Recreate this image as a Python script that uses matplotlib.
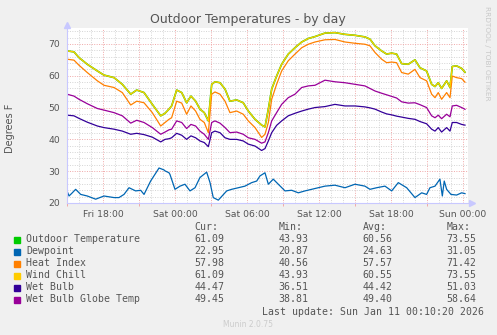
import matplotlib
matplotlib.use('Agg')
import matplotlib.pyplot as plt
from matplotlib.patches import Rectangle

W, H = 497, 335

# hours since Fri 15:00
hours = [0.0, 0.58, 1.0, 1.69, 2.53, 3.08, 3.92, 4.61, 5.31, 5.81,
         6.42, 7.11, 7.81, 8.17, 8.5, 8.72, 9.14, 9.56, 9.97, 10.33,
         10.72, 11.08, 11.44, 11.78, 12.06, 12.33, 12.75, 13.17, 13.58, 14.14,
         14.69, 15.11, 15.67, 16.22, 16.5, 16.78, 17.06, 17.47, 17.89, 18.44,
         19.0, 19.56, 20.11, 20.67, 21.5, 22.33, 23.17, 24.0, 24.83, 25.25,
         25.67, 26.22, 26.64, 27.06, 27.47, 27.89, 28.44, 29.0, 29.42, 29.97,
         30.39, 30.67, 30.94, 31.22, 31.64, 31.92, 32.11, 32.47, 32.89, 33.17]

outdoor = [67.8, 67.5, 65.7, 63.6, 61.5, 60.2, 59.4, 57.3, 54.2, 55.5,
           54.7, 51.0, 47.4, 48.2, 49.5, 50.5, 55.5, 54.7, 51.5, 53.6,
           52.0, 49.5, 48.4, 45.8, 57.3, 58.1, 57.8, 55.8, 52.0, 52.4,
           51.5, 48.9, 46.3, 44.5, 43.9, 49.5, 55.8, 59.9, 63.6, 66.8,
           68.8, 70.6, 71.7, 72.3, 73.4, 73.55, 73.0, 72.7, 72.2, 71.5,
           69.4, 67.8, 66.8, 67.1, 66.8, 63.8, 63.6, 65.0, 62.5, 61.5,
           57.3, 56.6, 57.8, 56.0, 58.4, 56.3, 62.9, 63.1, 62.3, 61.09]

heat_index = [65.2, 64.9, 63.3, 61.0, 58.4, 57.0, 56.3, 54.7, 50.8, 52.0,
              51.5, 48.4, 44.2, 45.3, 46.3, 46.8, 52.0, 51.4, 47.9, 50.5,
              48.9, 46.3, 45.3, 42.1, 54.2, 54.9, 54.2, 52.0, 48.4, 48.9,
              47.9, 45.8, 43.7, 40.6, 41.6, 45.3, 52.6, 57.3, 61.5, 64.7,
              66.8, 68.8, 69.9, 70.6, 71.3, 71.4, 70.6, 70.2, 69.9, 69.4,
              67.3, 65.2, 64.1, 64.3, 64.1, 61.0, 60.5, 62.0, 59.4, 58.4,
              54.2, 53.1, 54.7, 52.6, 54.7, 53.1, 59.9, 59.4, 59.1, 57.98]

wind_chill = outdoor

wet_bulb = [47.6, 47.4, 46.6, 45.4, 44.2, 43.7, 43.2, 42.6, 41.6, 41.9,
            41.5, 40.7, 39.2, 40.0, 40.2, 40.5, 41.9, 41.3, 40.0, 41.1,
            40.5, 39.5, 39.0, 37.7, 42.1, 42.6, 42.1, 40.5, 40.0, 40.0,
            39.5, 38.5, 37.9, 36.5, 37.1, 39.5, 42.1, 44.4, 45.8, 47.4,
            48.2, 48.9, 49.5, 50.0, 50.3, 51.0, 50.5, 50.5, 50.2, 49.9,
            49.5, 48.6, 48.0, 47.7, 47.3, 47.0, 46.6, 46.3, 45.6, 44.9,
            43.2, 42.6, 43.7, 42.3, 43.7, 42.6, 45.3, 45.3, 44.7, 44.47]

wbgt = [54.2, 53.6, 52.6, 51.2, 49.7, 49.2, 48.4, 47.4, 45.1, 46.0,
        45.3, 43.7, 41.6, 42.3, 43.0, 43.2, 45.8, 45.3, 43.4, 44.7,
        44.2, 42.6, 41.6, 40.0, 45.3, 45.8, 45.1, 43.7, 42.1, 42.3,
        41.6, 40.5, 40.0, 38.8, 39.2, 42.1, 45.8, 48.4, 51.0, 53.1,
        54.2, 56.3, 56.8, 57.0, 58.6, 58.1, 57.8, 57.3, 56.8, 56.0,
        55.2, 54.5, 54.0, 53.5, 53.0, 51.8, 51.4, 51.5, 50.9, 50.0,
        47.4, 46.8, 47.6, 46.5, 47.9, 47.1, 50.5, 50.7, 50.0, 49.45]

dew_hours = [0.0, 0.17, 0.44, 0.72, 1.14, 1.69, 2.39, 3.08, 3.92, 4.33,
             4.75, 5.17, 5.72, 6.14, 6.42, 6.97, 7.67, 8.08, 8.17, 8.5,
             8.58, 9.0, 9.42, 9.83, 10.25, 10.67, 11.08, 11.64, 11.92, 12.19,
             12.61, 13.31, 13.72, 14.28, 14.83, 15.39, 15.81, 16.08, 16.5, 16.78,
             17.19, 17.61, 18.17, 18.72, 19.28, 19.83, 20.39, 20.94, 21.5, 22.33,
             23.17, 24.0, 24.83, 25.25, 25.81, 26.5, 27.06, 27.61, 28.31, 29.0,
             29.56, 29.97, 30.25, 30.67, 31.08, 31.28, 31.44, 31.64, 32.0, 32.47,
             32.89, 33.17]
dewpoint = [23.8, 22.2, 23.2, 24.3, 22.7, 22.2, 21.2, 22.2, 21.7, 21.7,
            22.7, 24.8, 23.8, 24.0, 22.7, 26.9, 31.0, 30.4, 30.1, 29.5,
            29.0, 24.3, 25.3, 25.9, 23.8, 24.8, 28.0, 29.7, 26.4, 21.7,
            20.9, 23.8, 24.3, 24.8, 25.3, 26.4, 26.9, 28.5, 29.5, 25.9,
            27.5, 25.9, 23.8, 24.0, 23.2, 23.8, 24.3, 24.8, 25.3, 25.6,
            24.8, 25.9, 25.3, 24.3, 24.8, 25.3, 23.8, 26.4, 24.8, 21.7,
            23.2, 22.7, 24.8, 25.3, 27.5, 22.2, 26.9, 24.3, 22.7, 22.5,
            23.2, 22.95]

labels = ['Outdoor Temperature', 'Dewpoint', 'Heat Index', 'Wind Chill',
          'Wet Bulb', 'Wet Bulb Globe Temp']
colors = ['#00cc00', '#0066b3', '#ff8000', '#ffcc00', '#330099', '#990099']
cur = ['61.09', '22.95', '57.98', '61.09', '44.47', '49.45']
mins = ['43.93', '20.87', '40.56', '43.93', '36.51', '38.81']
avgs = ['60.56', '24.63', '57.57', '60.55', '44.42', '49.40']
maxs = ['73.55', '31.05', '71.42', '73.55', '51.03', '58.64']

xtick_hours = [3, 9, 15, 21, 27, 33]
xtick_labels = ['Fri 18:00', 'Sat 00:00', 'Sat 06:00', 'Sat 12:00', 'Sat 18:00', 'Sun 00:00']

TXT = '#555555'


def fx(x):
    return x / W


def fy(y):
    return 1 - y / H


fig = plt.figure(figsize=(W / 100, H / 100), dpi=100, facecolor='#f0f0f0')
ax = fig.add_axes([fx(67), fy(203), fx(468) - fx(67), fy(28) - fy(203)])
ax.set_facecolor('white')
ax.set_xlim(0, 33.42)
ax.set_ylim(20, 75)

# grid: gray every hour / 2 deg, red every 3 h / 10 deg
for h in range(0, 34):
    c = '#f0a8a8' if h % 3 == 0 else '#d4d4d4'
    ax.axvline(h, color=c, lw=0.7, ls=(0, (1, 1.5)), zorder=0)
for v in range(20, 76, 2):
    c = '#f0a8a8' if v % 10 == 0 else '#d4d4d4'
    ax.axhline(v, color=c, lw=0.7, ls=(0, (1, 1.5)), zorder=0)

lw = 0.9
ax.plot(hours, outdoor, color=colors[0], lw=1.2)
ax.plot(dew_hours, dewpoint, color=colors[1], lw=lw)
ax.plot(hours, heat_index, color=colors[2], lw=lw)
ax.plot(hours, wind_chill, color=colors[3], lw=0.95)
ax.plot(hours, wet_bulb, color=colors[4], lw=lw)
ax.plot(hours, wbgt, color=colors[5], lw=lw)

ax.set_xticks(xtick_hours)
ax.set_xticklabels(xtick_labels)
ax.set_xticks(range(0, 34, 3), minor=True)
ax.set_yticks(range(20, 71, 10))
ax.tick_params(length=0, labelsize=6.7, colors=TXT, pad=5)
ax.tick_params(axis='x', which='minor', length=2, color='#f0a8a8', width=0.7)
for s in ['top', 'right']:
    ax.spines[s].set_visible(False)
for s in ['left', 'bottom']:
    ax.spines[s].set_color('#c8c8ff')
    ax.spines[s].set_linewidth(0.8)

# axis arrows
ax.plot([0], [75.8], marker='^', color='#c8c8ff', ms=4, clip_on=False)
ax.plot([33.75], [20], marker='>', color='#c8c8ff', ms=4, clip_on=False)

fig.text(fx(248), fy(19), 'Outdoor Temperatures - by day', ha='center', va='center',
         fontsize=9, color=TXT)
fig.text(fx(10), fy(128), 'Degrees F', rotation=90, ha='center', va='center',
         fontsize=7, color=TXT)
fig.text(fx(487), fy(6), 'RRDTOOL / TOBI OETIKER', rotation=270, ha='center', va='top',
         fontsize=5.3, color='#c8c8c8')

mono = 'DejaVu Sans Mono'
fs = 7.1
for x, head in zip([194.3, 278.7, 362.7, 446.7], ['Cur:', 'Min:', 'Avg:', 'Max:']):
    fig.text(fx(x), fy(227.5), head, family=mono, fontsize=fs, color=TXT, va='center')

for i, lab in enumerate(labels):
    y = 239.5 + i * 12
    fig.patches.append(Rectangle((fx(14), fy(y + 3)), 6 / W, 6 / H,
                                 transform=fig.transFigure, color=colors[i]))
    fig.text(fx(26), fy(y), lab, family=mono, fontsize=fs, color=TXT, va='center')
    for x, val in zip([194.3, 278.7, 362.7, 446.7], [cur[i], mins[i], avgs[i], maxs[i]]):
        fig.text(fx(x), fy(y), val, family=mono, fontsize=fs, color=TXT, va='center')

fig.text(fx(261.7), fy(311.7), 'Last update: Sun Jan 11 00:10:20 2026', family=mono,
         fontsize=fs, color=TXT, va='center')
fig.text(fx(248), fy(324.5), 'Munin 2.0.75', ha='center', va='center',
         fontsize=5.5, color='#cccccc')

fig.savefig('out.png', dpi=100, facecolor=fig.get_facecolor())
